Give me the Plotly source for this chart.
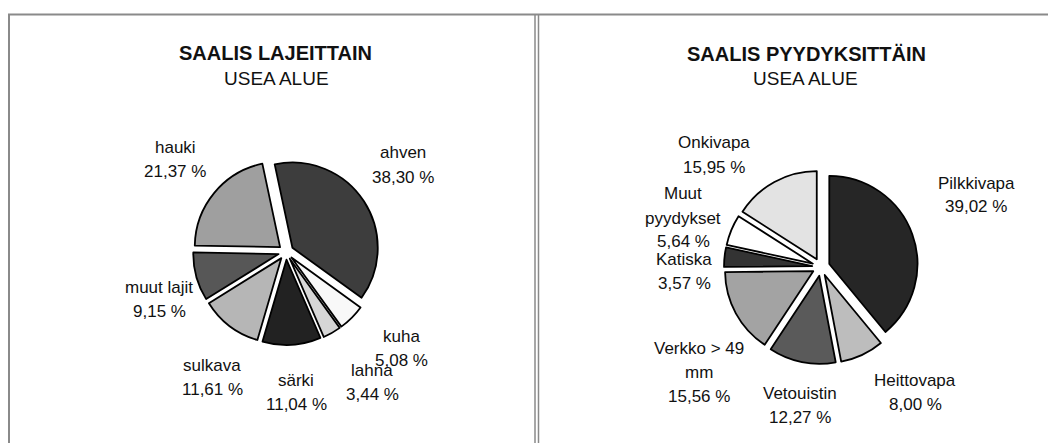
import plotly.graph_objects as go

# The page body adds an 8px margin, so the figure is drawn 8px smaller and
# every layout position below is given in screen pixels (offset removed in px/py).
OFF = 8
SCREEN_W, SCREEN_H = 1056, 443
W, H = SCREEN_W - OFF, SCREEN_H - OFF

# ---------------- data ----------------
left_title = "SAALIS LAJEITTAIN"
right_title = "SAALIS PYYDYKSITTÄIN"
subtitle = "USEA ALUE"

species = ["ahven", "kuha", "lahna", "särki", "sulkava", "muut lajit", "hauki"]
species_pct = [38.30, 5.08, 3.44, 11.04, 11.61, 9.15, 21.37]

gears = ["Pilkkivapa", "Heittovapa", "Vetouistin", "Verkko > 49 mm",
         "Katiska", "Muut pyydykset", "Onkivapa"]
gears_pct = [39.02, 8.00, 12.27, 15.56, 3.57, 5.64, 15.95]

# ---------------- styles / layout ----------------
left_colors = ["#3d3d3d", "#f8f8f8", "#d6d6d6", "#222222", "#b6b6b6", "#575757", "#9f9f9f"]
right_colors = ["#262626", "#bdbdbd", "#5a5a5a", "#a3a3a3", "#333333", "#ffffff", "#e3e3e3"]

FONT = "Arial, Liberation Sans, sans-serif"

wrap = {"Verkko > 49 mm": ["Verkko > 49", "mm"],
        "Muut pyydykset": ["Muut", "pyydykset"]}

# label centres in screen pixels (layout only)
left_label_pos = [(403, 165), (401, 348), (372, 382), (296, 392),
                  (212, 377), (159, 299), (175, 159)]
right_label_pos = [(976, 195), (915, 392), (800, 405), (699, 372),
                   (684, 271), (683, 218), (714, 155)]


def px(x):
    return (x - OFF) / W


def py(y):
    return 1 - (y - OFF) / H


def fmt(v):
    return f"{v:.2f}".replace(".", ",") + " %"


def domain(cx, cy, R):
    return dict(x=[px(cx - R), px(cx + R)], y=[py(cy + R), py(cy - R)])


fig = go.Figure()

fig.add_trace(go.Pie(
    labels=species, values=species_pct, sort=False, direction="clockwise",
    rotation=-12, pull=[0.09] * len(species), textinfo="none",
    marker=dict(colors=left_colors, line=dict(color="#000000", width=1.8)),
    domain=domain(286, 252, 93), showlegend=False, hoverinfo="label+percent",
))
fig.add_trace(go.Pie(
    labels=gears, values=gears_pct, sort=False, direction="clockwise",
    rotation=0, pull=[0.1] * len(gears), textinfo="none",
    marker=dict(colors=right_colors, line=dict(color="#000000", width=1.8)),
    domain=domain(821, 267, 97), showlegend=False, hoverinfo="label+percent",
))

annotations = []


def add_text(x, y, text, size=17, bold=False):
    annotations.append(dict(
        x=px(x), y=py(y), xref="paper", yref="paper", text=f"<b>{text}</b>" if bold else text,
        showarrow=False, xanchor="center", yanchor="middle",
        font=dict(family=FONT, size=size, color="#111111")))


def add_labels(names, values, positions, spacing=24):
    for name, v, (cx, cy) in zip(names, values, positions):
        lines = wrap.get(name, [name]) + [fmt(v)]
        n = len(lines)
        for i, line in enumerate(lines):
            add_text(cx, cy + (i - (n - 1) / 2) * spacing, line)


add_text(275, 53, left_title, size=20, bold=True)
add_text(276, 78, subtitle, size=19)
add_text(806, 54, right_title, size=20, bold=True)
add_text(805, 79, subtitle, size=19)

add_labels(species, species_pct, left_label_pos)
add_labels(gears, gears_pct, right_label_pos)

border = "#8a8a8a"
shapes = [
    dict(type="line", xref="paper", yref="paper", x0=px(8), x1=px(SCREEN_W), y0=py(14.5), y1=py(14.5),
         line=dict(color=border, width=2)),
    dict(type="line", xref="paper", yref="paper", x0=px(9), x1=px(9), y0=py(14), y1=py(SCREEN_H),
         line=dict(color=border, width=2)),
    dict(type="line", xref="paper", yref="paper", x0=px(535), x1=px(535), y0=py(14), y1=py(SCREEN_H),
         line=dict(color=border, width=1.5)),
    dict(type="line", xref="paper", yref="paper", x0=px(538.5), x1=px(538.5), y0=py(14), y1=py(SCREEN_H),
         line=dict(color=border, width=1.5)),
]

fig.update_layout(
    width=W, height=H, margin=dict(l=0, r=0, t=0, b=0),
    paper_bgcolor="#ffffff", plot_bgcolor="#ffffff",
    annotations=annotations, shapes=shapes,
    font=dict(family=FONT),
)

fig.write_html("out.html")
